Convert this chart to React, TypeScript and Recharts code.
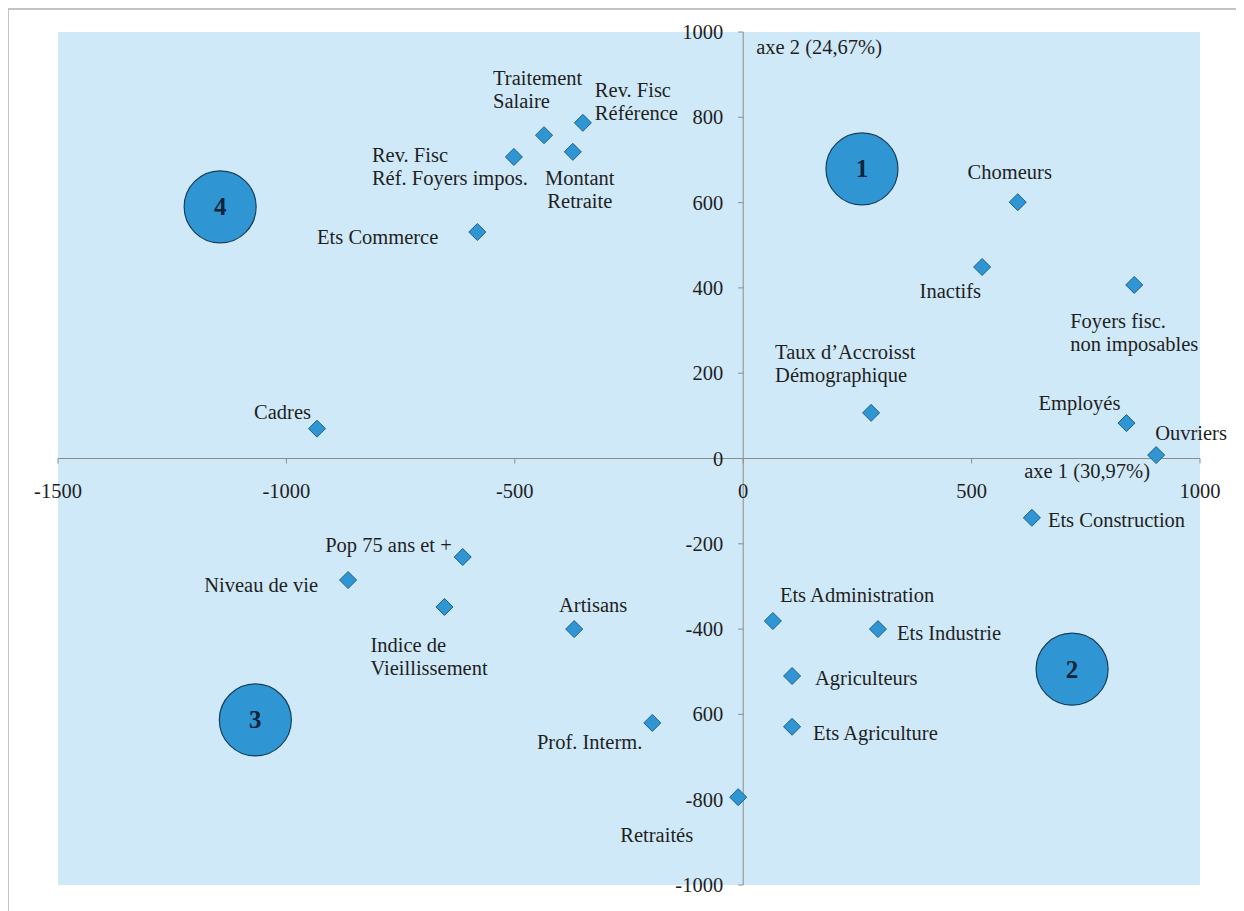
import React from "react";
import { ScatterChart, Scatter, XAxis, YAxis, ReferenceArea, ReferenceLine } from "recharts";

// ---- data ----
const pointLabels = [
  "Traitement\nSalaire",
  "Rev. Fisc\nRéférence",
  "Rev. Fisc\nRéf. Foyers impos.",
  "Montant\nRetraite",
  "Ets Commerce",
  "Cadres",
  "Chomeurs",
  "Inactifs",
  "Foyers fisc.\nnon imposables",
  "Taux d\u2019Accroisst\nDémographique",
  "Employés",
  "Ouvriers",
  "Ets Construction",
  "Pop 75 ans et +",
  "Niveau de vie",
  "Indice de\nVieillissement",
  "Artisans",
  "Ets Administration",
  "Ets Industrie",
  "Agriculteurs",
  "Ets Agriculture",
  "Prof. Interm.",
  "Retraités",
];
const axe1Values = [-436, -351, -502, -373, -582, -933, 601, 523, 856, 280, 839, 904, 632, -614, -865, -654, -370, 65, 295, 107, 107, -199, -11];
const axe2Values = [758, 787, 707, 719, 531, 70, 601, 449, 407, 107, 83, 8, -139, -231, -285, -348, -400, -381, -400, -510, -629, -620, -794];

const quadrantLabels = ["1", "2", "3", "4"];
const quadrantX = [260, 720, -1068, -1145];
const quadrantY = [679, -494, -613, 590];

const xTickValues = [-1500, -1000, -500, 0, 500, 1000];
const xTickLabels = ["-1500", "-1000", "-500", "0", "500", "1000"];
const yTickValues = [1000, 800, 600, 400, 200, 0, -200, -400, -600, -800, -1000];
const yTickLabels = ["1000", "800", "600", "400", "200", "0", "-200", "-400", "600", "-800", "-1000"];

const axisTitle1 = "axe 1 (30,97%)";
const axisTitle2 = "axe 2 (24,67%)";

// ---- label layout (pixel offsets from each marker) ----
type Anchor = "start" | "middle" | "end";
const labelLayout: [number, number, Anchor][] = [
  [-51, -57, "start"],
  [12, -33, "start"],
  [-142, -2, "start"],
  [7, 26, "middle"],
  [-39, 5, "end"],
  [-6, -17, "end"],
  [-8, -30, "middle"],
  [-1, 24, "end"],
  [-64, 36, "start"],
  [-96, -61, "start"],
  [-6, -20, "end"],
  [-1, -22, "start"],
  [16, 2, "start"],
  [-11, -12, "end"],
  [-30, 5, "end"],
  [-74, 38, "start"],
  [19, -24, "middle"],
  [7, -26, "start"],
  [19, 4, "start"],
  [23, 2, "start"],
  [21, 6, "start"],
  [-10, 19, "end"],
  [-45, 38, "end"],
];

const FONT = "'Liberation Serif', 'Times New Roman', serif";
const FS = 20.5;
const TEXT = "#1f1f1f";
const AXIS = "#8c8c8c";

const points = pointLabels.map((label, i) => ({ x: axe1Values[i], y: axe2Values[i], label, idx: i }));
const quadrants = quadrantLabels.map((label, i) => ({ x: quadrantX[i], y: quadrantY[i], label }));
const xTicks = xTickValues.map((v, i) => ({ x: v, y: 0, label: xTickLabels[i] }));
const yTicks = yTickValues.map((v, i) => ({ x: 0, y: v, label: yTickLabels[i] }));
const title2Pt = [{ x: 0, y: 1000 }];
const title1Pt = [{ x: 1000, y: 0 }];

const PointShape = (props: any) => {
  const { cx, cy, payload } = props;
  const [dx, dy, anchor] = labelLayout[payload.idx];
  const lines = String(payload.label).split("\n");
  const s = 8.5;
  return (
    <g>
      <polygon
        points={`${cx},${cy - s} ${cx + s},${cy} ${cx},${cy + s} ${cx - s},${cy}`}
        fill="#2f96d3"
        stroke="#1c5f8d"
        strokeWidth={1}
      />
      <text x={cx + dx} y={cy + dy} textAnchor={anchor} fontFamily={FONT} fontSize={FS} fill={TEXT} dominantBaseline="central">
        {lines.map((l, k) => (
          <tspan key={k} x={cx + dx} dy={k === 0 ? 0 : 23}>
            {l}
          </tspan>
        ))}
      </text>
    </g>
  );
};

const QuadrantShape = (props: any) => {
  const { cx, cy, payload } = props;
  return (
    <g>
      <circle cx={cx} cy={cy} r={36} fill="#2f96d3" stroke="#163f5c" strokeWidth={1.2} />
      <text x={cx} y={cy} textAnchor="middle" dominantBaseline="central" fontFamily={FONT} fontWeight="bold" fontSize={25} fill="#10233a">
        {payload.label}
      </text>
    </g>
  );
};

const XTickShape = (props: any) => {
  const { cx, cy, payload } = props;
  return (
    <g>
      <line x1={cx} y1={cy} x2={cx} y2={cy + 5} stroke={AXIS} strokeWidth={1} />
      <text x={cx} y={cy + 32} textAnchor="middle" dominantBaseline="central" fontFamily={FONT} fontSize={FS} fill={TEXT}>
        {payload.label}
      </text>
    </g>
  );
};

const YTickShape = (props: any) => {
  const { cx, cy, payload } = props;
  return (
    <g>
      <line x1={cx - 5} y1={cy} x2={cx} y2={cy} stroke={AXIS} strokeWidth={1} />
      <text x={cx - 20} y={cy} textAnchor="end" dominantBaseline="central" fontFamily={FONT} fontSize={FS} fill={TEXT}>
        {payload.label}
      </text>
    </g>
  );
};

const Title2Shape = (props: any) => {
  const { cx, cy } = props;
  return (
    <text x={cx + 13} y={cy + 15} textAnchor="start" dominantBaseline="central" fontFamily={FONT} fontSize={FS} fill={TEXT}>
      {axisTitle2}
    </text>
  );
};

const Title1Shape = (props: any) => {
  const { cx, cy } = props;
  return (
    <text x={cx - 50} y={cy + 12} textAnchor="end" dominantBaseline="central" fontFamily={FONT} fontSize={FS} fill={TEXT}>
      {axisTitle1}
    </text>
  );
};

export default function App() {
  return (
    <div
      style={{
        position: "relative",
        marginLeft: -1,
        width: 1237,
        height: 903,
        borderTop: "2px solid #c4c4c4",
        borderLeft: "2px solid #c4c4c4",
        background: "#ffffff",
      }}
    >
      <ScatterChart width={1235} height={901} margin={{ top: 22, right: 44, bottom: 26, left: 49 }} style={{ overflow: "visible" }}>
        <XAxis type="number" dataKey="x" domain={[-1500, 1000]} hide />
        <YAxis type="number" dataKey="y" domain={[-1000, 1000]} hide />
        <ReferenceArea x1={-1500} x2={1000} y1={-1000} y2={1000} fill="#cfe9f8" fillOpacity={1} stroke="none" />
        <ReferenceLine x={0} stroke={AXIS} strokeWidth={1} />
        <ReferenceLine y={0} stroke={AXIS} strokeWidth={1} />
        <Scatter data={xTicks} shape={XTickShape} isAnimationActive={false} />
        <Scatter data={yTicks} shape={YTickShape} isAnimationActive={false} />
        <Scatter data={title2Pt} shape={Title2Shape} isAnimationActive={false} />
        <Scatter data={title1Pt} shape={Title1Shape} isAnimationActive={false} />
        <Scatter data={quadrants} shape={QuadrantShape} isAnimationActive={false} />
        <Scatter data={points} shape={PointShape} isAnimationActive={false} />
      </ScatterChart>
    </div>
  );
}
